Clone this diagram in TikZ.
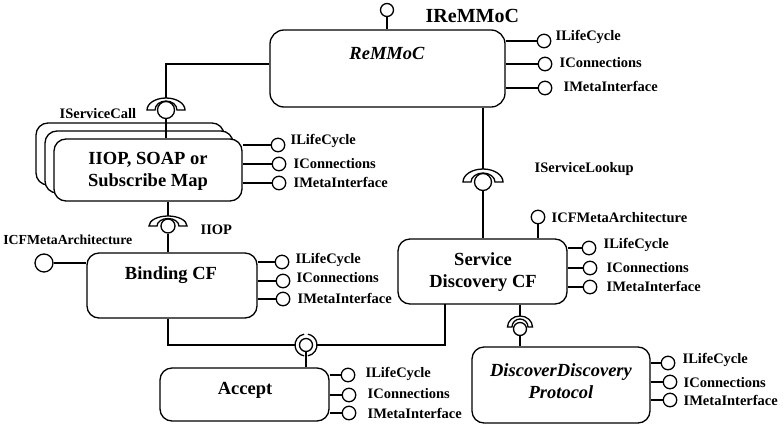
\documentclass[tikz,border=0pt]{standalone}
\usepackage{fontspec}
\setmainfont{Liberation Serif}
\usetikzlibrary{calc}
\newcommand\halfring[5]{%
  \draw[fill=white] ($(#1)+(-#2,0)$) arc[start angle=180,end angle=0,x radius=#2pt,y radius=#3pt]
    -- ($(#1)+(#4,0)$) arc[start angle=0,end angle=180,x radius=#4pt,y radius=#5pt] -- cycle;}
\begin{document}
\begin{tikzpicture}[x=1pt,y=-1pt,line width=1.3pt,
  comp/.style={draw,rounded corners=12pt,fill=white,inner sep=0pt},
  ctext/.style={font=\bfseries\fontsize{18.5}{22}\selectfont,align=center,inner sep=0pt},
  lbl/.style={font=\bfseries\fontsize{14.5}{16}\selectfont,anchor=base west,inner sep=0pt},
  ball/.style={draw,circle,inner sep=0pt,minimum size=13.5pt,fill=white},
]
\useasboundingbox (0,0) rectangle (784,426);
\fill[white] (0,0) rectangle (784,426);
\clip (0,0) rectangle (784,426);

% ---------------- ReMMoC ----------------
\node[comp,minimum width=235pt,minimum height=77pt,rounded corners=14pt] (remmoc) at (387.5,68.5) {};
\node[ctext,font=\bfseries\itshape\fontsize{18.5}{22}\selectfont] (remmoct) at (387,53) {ReMMoC};
\node[ball,minimum size=13pt] (irb) at (387,10) {};
\draw (irb) -- (irb |- remmoc.north);
\node[lbl,font=\bfseries\fontsize{20}{22}\selectfont] (irl) at (425,22) {IReMMoC};
\node[ball] (r1a) at (544,41) {};
\node[ball] (r1b) at (545,64) {};
\node[ball] (r1c) at (545,88) {};
\draw (remmoc.east |- r1a) -- (r1a);
\draw (remmoc.east |- r1b) -- (r1b);
\draw (remmoc.east |- r1c) -- (r1c);
\node[lbl] (r1al) at (555,40) {ILifeCycle};
\node[lbl] (r1bl) at (559,67) {IConnections};
\node[lbl] (r1cl) at (563,91) {IMetaInterface};

% ---------------- IServiceCall socket ----------------
\coordinate (scbc) at (166,110);
\coordinate (scbtop) at (166,98);
\draw (remmoc.west |- r1b) -| (scbtop);
\halfring{scbc}{19}{12}{11}{9}
\node[ball,minimum size=17pt] (scb) at (scbc) {};
\node[lbl] (scl) at (59,118) {IServiceCall};

% ---------------- IIOP / SOAP stack ----------------
\node[comp,minimum width=188pt,minimum height=62pt] (iiop3) at (130,154) {};
\node[comp,minimum width=188pt,minimum height=62pt] (iiop2) at (139,162) {};
\node[comp,minimum width=188pt,minimum height=62pt] (iiop) at (148,170) {};
\node[ctext] (iiopt) at (148,171.5) {IIOP, SOAP or\\Subscribe Map};
\draw (scb) -- (scb |- iiop.north);
\node[ball] (i1a) at (278,145) {};
\node[ball] (i1b) at (279,164) {};
\node[ball] (i1c) at (279,183) {};
\draw (iiop.east |- i1a) -- (i1a);
\draw (iiop.east |- i1b) -- (i1b);
\draw (iiop.east |- i1c) -- (i1c);
\node[lbl] (i1al) at (290,144) {ILifeCycle};
\node[lbl] (i1bl) at (293,168) {IConnections};
\node[lbl] (i1cl) at (293,187) {IMetaInterface};

% ---------------- IIOP socket ----------------
\coordinate (iibc) at (168,226);
\coordinate (iibtop) at (168,216);
\draw (iiop.south -| iibc) -- (iibtop);
\halfring{iibc}{19}{10}{11}{7.5}
\node[ball,minimum size=14pt] (iib) at (iibc) {};
\node[lbl] (iil) at (200,234) {IIOP};

% ---------------- Binding CF ----------------
\node[comp,minimum width=170pt,minimum height=65pt] (binding) at (172,285.5) {};
\node[ctext] (bindingt) at (171,275) {Binding CF};
\draw (iib) -- (iib |- binding.north);
\node[ball,minimum size=18pt] (bcm) at (44,263) {};
\draw (bcm) -- (binding.west |- bcm);
\node[lbl,anchor=base east,font=\bfseries\fontsize{13.8}{16}\selectfont] (bcml) at (133,244) {ICFMetaArchitecture};
\node[ball] (b1a) at (282,262) {};
\node[ball] (b1b) at (283,281) {};
\node[ball] (b1c) at (283,299) {};
\draw (binding.east |- b1a) -- (b1a);
\draw (binding.east |- b1b) -- (b1b);
\draw (binding.east |- b1c) -- (b1c);
\node[lbl] (b1al) at (295,263) {ILifeCycle};
\node[lbl] (b1bl) at (296,282) {IConnections};
\node[lbl] (b1cl) at (297,303) {IMetaInterface};

% ---------------- Service Discovery CF ----------------
\node[comp,minimum width=169pt,minimum height=65pt] (sd) at (482.5,271.5) {};
\node[ctext] (sdt) at (483,272) {Service\\Discovery CF};
\coordinate (slbc) at (483,182);
\coordinate (slbtop) at (483,169);
\draw (remmoc.south -| slbc) -- (slbtop);
\halfring{slbc}{20}{13}{12}{9}
\node[ball,minimum size=17pt] (slb) at (slbc) {};
\draw (slb) -- (slb |- sd.north);
\node[lbl] (sll) at (534,172) {IServiceLookup};
\node[ball] (scm) at (538,217) {};
\draw (scm) -- (scm |- sd.north);
\node[lbl] (scml) at (551,222) {ICFMetaArchitecture};
\node[ball] (s1a) at (589,248) {};
\node[ball] (s1b) at (590,268) {};
\node[ball] (s1c) at (590,287) {};
\draw (sd.east |- s1a) -- (s1a);
\draw (sd.east |- s1b) -- (s1b);
\draw (sd.east |- s1c) -- (s1c);
\node[lbl] (s1al) at (603,248) {ILifeCycle};
\node[lbl] (s1bl) at (606,272) {IConnections};
\node[lbl] (s1cl) at (606,291) {IMetaInterface};

% ---------------- DiscoverDiscovery Protocol ----------------
\node[comp,minimum width=178pt,minimum height=76pt] (ddp) at (561,385) {};
\node[ctext,font=\bfseries\itshape\fontsize{18.5}{22}\selectfont] (ddpt) at (561,381) {DiscoverDiscovery\\Protocol};
\coordinate (ddbc) at (520,327);
\coordinate (ddbtop) at (520,316);
\draw (sd.south -| ddbc) -- (ddbtop);
\halfring{ddbc}{12.5}{11}{8}{8}
\node[ball,minimum size=13pt] (ddb) at (520,329) {};
\draw (ddb) -- (ddb |- ddp.north);
\node[ball] (d1a) at (668,363) {};
\node[ball] (d1b) at (670,382) {};
\node[ball] (d1c) at (670,400) {};
\draw (ddp.east |- d1a) -- (d1a);
\draw (ddp.east |- d1b) -- (d1b);
\draw (ddp.east |- d1c) -- (d1c);
\node[lbl] (d1al) at (682,363) {ILifeCycle};
\node[lbl] (d1bl) at (683,387) {IConnections};
\node[lbl] (d1cl) at (683,405) {IMetaInterface};

% ---------------- Accept + junction ----------------
\node[comp,minimum width=169pt,minimum height=53pt] (accept) at (244.5,394.5) {};
\node[ctext] (acceptt) at (245,390) {Accept};
\node[ball,minimum size=13pt] (accb) at (306,345) {};
\coordinate (jl) at (295,345);
\coordinate (jr) at (317,345);
\coordinate (sdbot) at (445,304);
\draw ($(accb)+(100:11pt)$) arc[start angle=100,end angle=260,radius=11pt];
\draw ($(accb)+(-80:11pt)$) arc[start angle=-80,end angle=80,radius=11pt];
\draw (binding.south -| iib) |- (jl);
\draw (sdbot) |- (jr);
\draw (accb) -- (accb |- accept.north);
\node[ball] (a1a) at (348,375) {};
\node[ball] (a1b) at (349,395) {};
\node[ball] (a1c) at (349,413) {};
\draw (accept.east |- a1a) -- (a1a);
\draw (accept.east |- a1b) -- (a1b);
\draw (accept.east |- a1c) -- (a1c);
\node[lbl] (a1al) at (365,377) {ILifeCycle};
\node[lbl] (a1bl) at (367,398) {IConnections};
\node[lbl] (a1cl) at (367,418) {IMetaInterface};
\end{tikzpicture}
\end{document}
